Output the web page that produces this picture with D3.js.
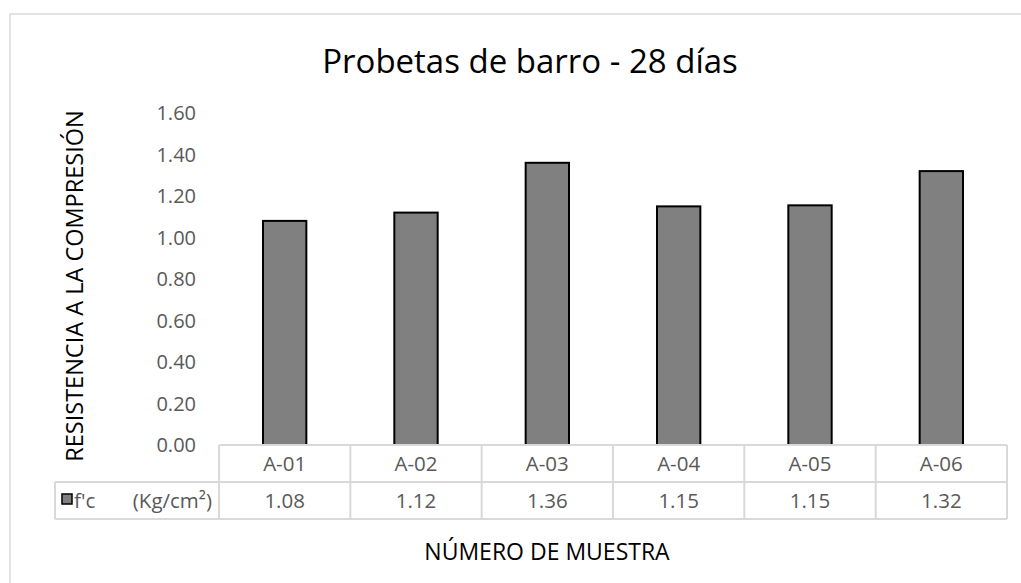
<!DOCTYPE html>
<html><head><meta charset="utf-8">
<script src="https://cdn.jsdelivr.net/npm/d3@7"></script>
<style>body{margin:0;background:#fff}svg{display:block}text{font-family:"Open Sans","Noto Sans",sans-serif}</style>
</head><body>
<script>
const categories = ["A-01","A-02","A-03","A-04","A-05","A-06"];
const values = [1.08,1.12,1.36,1.15,1.155,1.32];
const valueLabels = ["1.08","1.12","1.36","1.15","1.15","1.32"];
const yTicks = [0,0.2,0.4,0.6,0.8,1.0,1.2,1.4,1.6];
const seriesName = "f'c";
const seriesUnit = "(Kg/cm²)";
const title = "Probetas de barro - 28 días";
const yTitle = "RESISTENCIA A LA COMPRESIÓN";
const xTitle = "NÚMERO DE MUESTRA";

const W=1021,H=583;
const svg=d3.select("body").append("svg").attr("width",W).attr("height",H);
svg.append("rect").attr("x",10).attr("y",14).attr("width",1030).attr("height",600)
  .attr("fill","#fff").attr("stroke","#d9d9d9").attr("stroke-width",1.5);

const x=d3.scaleBand().domain(categories).range([219,1007]).paddingInner(0).paddingOuter(0);
const y=d3.scaleLinear().domain([0,1.6]).range([445,113]);

svg.append("text").attr("x",530).attr("y",73).attr("text-anchor","middle")
  .attr("font-size",33).attr("fill","#000").text(title);

// y ticks
svg.selectAll(".yt").data(yTicks).join("text").attr("x",196).attr("y",d=>y(d)+7)
  .attr("text-anchor","end").attr("font-size",20).attr("fill","#595959").text(d=>d.toFixed(2));

svg.append("text").attr("transform","translate(83,286) rotate(-90)").attr("text-anchor","middle")
  .attr("font-size",23.5).attr("fill","#000").text(yTitle);

// bars
const bw=x.bandwidth()*0.33;
svg.selectAll(".bar").data(categories).join("rect")
  .attr("x",d=>x(d)+x.bandwidth()/2-bw/2).attr("y",(d,i)=>y(values[i]))
  .attr("width",bw).attr("height",(d,i)=>y(0)-y(values[i]))
  .attr("fill","#808080").attr("stroke","#000").attr("stroke-width",2);

// data table
const rowTop=445,rowMid=482,rowBot=519,legL=55;
const g=svg.append("g").attr("stroke","#d9d9d9").attr("stroke-width",2);
g.append("line").attr("x1",219).attr("x2",1007).attr("y1",rowTop).attr("y2",rowTop);
g.append("line").attr("x1",legL).attr("x2",1007).attr("y1",rowMid).attr("y2",rowMid);
g.append("line").attr("x1",legL).attr("x2",1007).attr("y1",rowBot).attr("y2",rowBot);
g.append("line").attr("x1",legL).attr("x2",legL).attr("y1",rowMid).attr("y2",rowBot);
const bounds=categories.map(c=>x(c)).concat([x.range()[1]]);
g.selectAll(".vl").data(bounds).join("line").attr("x1",d=>d).attr("x2",d=>d)
  .attr("y1",rowTop).attr("y2",rowBot);

svg.selectAll(".cl").data(categories).join("text").attr("x",d=>x(d)+x.bandwidth()/2)
  .attr("y",471).attr("text-anchor","middle").attr("font-size",20.5).attr("fill","#595959").text(d=>d);
svg.selectAll(".vl2").data(valueLabels).join("text").attr("x",(d,i)=>x(categories[i])+x.bandwidth()/2)
  .attr("y",508).attr("text-anchor","middle").attr("font-size",20.5).attr("fill","#595959").text(d=>d);

svg.append("rect").attr("x",62).attr("y",494).attr("width",10).attr("height",10)
  .attr("fill","#808080").attr("stroke","#000").attr("stroke-width",1.5);
svg.append("text").attr("x",74).attr("y",508).attr("font-size",20.5).attr("fill","#595959").text(seriesName);
svg.append("text").attr("x",212).attr("y",508).attr("text-anchor","end").attr("font-size",20.5).attr("fill","#595959").text(seriesUnit);

svg.append("text").attr("x",547).attr("y",560).attr("text-anchor","middle")
  .attr("font-size",23).attr("fill","#000").text(xTitle);
</script>
</body></html>
